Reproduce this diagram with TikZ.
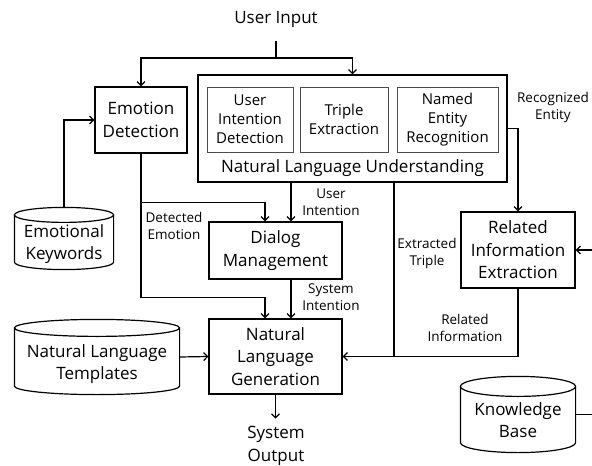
\documentclass[tikz,border=0pt]{standalone}
\usepackage{fontspec}
\setmainfont{Open Sans}
\usetikzlibrary{arrows.meta,calc}
\newcommand\cyl[2]{%
  \draw let \p1=(#1.north west), \p2=(#1.south east), \n1={(\x2-\x1)/2} in
    (\x1,\y1-#2) -- (\x1,\y2+#2)
    arc[start angle=180,end angle=360,x radius=\n1,y radius=#2] -- (\x2,\y1-#2)
    (\x1+\n1,\y1-#2) ellipse[x radius=\n1,y radius=#2];}
\begin{document}
\begin{tikzpicture}[x=1pt,y=-1pt,line width=1.2pt,
  arr/.style={-{Straight Barb[length=4pt,width=8pt]}},
  mainfont/.style={font=\fontsize{17}{22.5}\selectfont},
  box/.style={draw,rectangle,inner sep=0pt,align=center,mainfont},
  subbox/.style={draw=black!70,rectangle,inner sep=0pt,align=center,line width=1pt,font=\fontsize{15}{19}\selectfont},
  cylnode/.style={rectangle,inner sep=0pt},
  cyltext/.style={align=center,inner sep=0pt,mainfont},
  lbl/.style={align=center,inner sep=0pt,font=\fontsize{13.5}{17}\selectfont}]
\useasboundingbox (0,0) rectangle (592,466);

% text nodes
\node[mainfont,inner sep=0pt] (ui) at (276,19) {User Input};
\coordinate (uib) at (276,41);
\coordinate (j1) at (276,58);

% boxes
\node[box,minimum width=92pt,minimum height=66pt] (ed) at (141,120) {Emotion\\Detection};
\node[draw,rectangle,inner sep=0pt,minimum width=309pt,minimum height=107pt] (nlu) at (352.5,128.5) {};
\node[subbox,minimum width=86pt,minimum height=65pt] (uid) at (250,119.5) {User\\Intention\\Detection};
\node[subbox,minimum width=88pt,minimum height=65pt] (te) at (344,119.5) {Triple\\Extraction};
\node[subbox,minimum width=101pt,minimum height=65pt] (ner) at (447.5,119.5) {Named\\Entity\\Recognition};
\node[mainfont,inner sep=0pt] (nlut) at (352.5,168) {Natural Language Understanding};
\node[box,minimum width=133pt,minimum height=57pt] (dm) at (275.5,250.5) {Dialog\\Management};
\node[box,minimum width=133pt,minimum height=75pt] (nlg) at (275.5,356.5) {Natural\\Language\\Generation};
\node[box,minimum width=114pt,minimum height=76pt] (rie) at (518,250) {Related\\Information\\Extraction};
\node[cyltext] (so) at (276,446) {System\\Output};

% cylinders
\node[cylnode,minimum width=98pt,minimum height=61pt] (ek) at (64,238.5) {};
\cyl{ek}{7.5pt}
\node[cyltext] (ekt) at (64,244) {Emotional\\Keywords};
\node[cylnode,minimum width=164pt,minimum height=74pt] (nlt) at (97,357) {};
\cyl{nlt}{8.5pt}
\node[cyltext] (nltt) at (97,364) {Natural Language\\Templates};
\node[cylnode,minimum width=114pt,minimum height=75pt] (kb) at (518,414.5) {};
\cyl{kb}{10pt}
\node[cyltext] (kbt) at (518,420) {Knowledge\\Base};

% labels
\node[lbl] (lre) at (553,107) {Recognized\\Entity};
\node[lbl] (lui) at (331,202) {User\\Intention};
\node[lbl] (lde) at (174,226) {Detected\\Emotion};
\node[lbl] (lsi) at (331,297) {System\\Intention};
\node[lbl] (let) at (427,253) {Extracted\\Triple};
\node[lbl] (lri) at (465,328) {Related\\Information};

% connectors
\draw (uib) -- (j1);
\draw[arr] (j1) -| (ed.north);
\draw[arr] (j1) -| (nlu.north);
\draw[arr] (ek.north) |- (ed.west);
\draw[arr] (ed.south) |- ([xshift=-10.5pt,yshift=19pt]dm.north) -- ([xshift=-10.5pt]dm.north);
\draw[arr] (ed.south) |- ([xshift=-10.5pt,yshift=21pt]nlg.north) -- ([xshift=-10.5pt]nlg.north);
\draw[arr] ([xshift=15.5pt]dm.north |- nlu.south) -- ([xshift=15.5pt]dm.north);
\draw[arr] ([xshift=15.5pt]dm.south) -- ([xshift=15.5pt]nlg.north);
\draw[arr] (nlu.east) -| (rie.north);
\draw[arr] (rie.south) |- (nlg.east);
\draw ([xshift=41.5pt]nlu.south) -- ([xshift=41.5pt]nlu.south |- nlg.east);
\draw[arr] (nlt.east) -- (nlg.west);
\draw[arr] (nlg.south) -- ([yshift=-24pt]nlg.south);
\draw[arr] (kb.east) -| ([xshift=17pt]rie.east) -- (rie.east);
\end{tikzpicture}
\end{document}
